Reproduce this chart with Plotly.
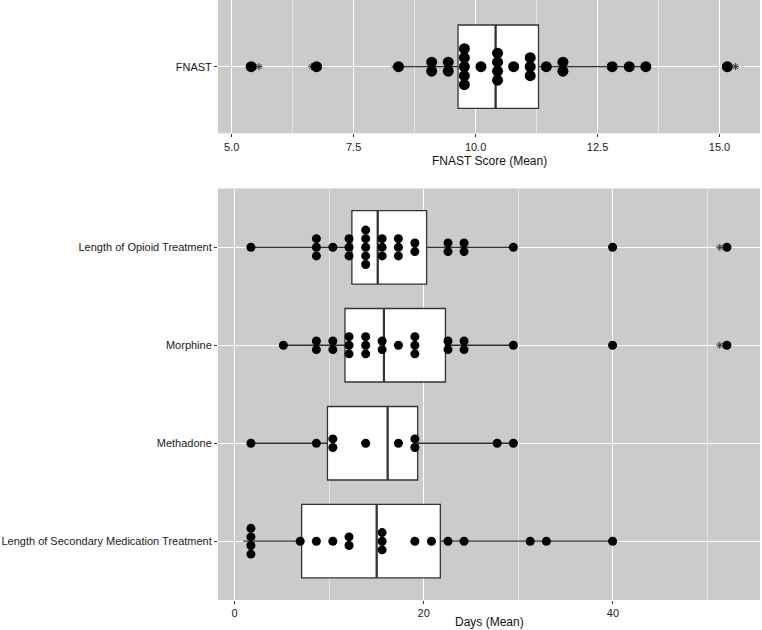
import plotly.graph_objects as go
from collections import Counter

# ---------------- data ----------------
fnast_label = "FNAST"
fnast_values = [5.40, 6.74, 8.42, 9.10, 9.10, 9.44, 9.44,
                9.77, 9.77, 9.77, 9.77, 9.77, 10.11,
                10.45, 10.45, 10.45, 10.45, 10.78,
                11.12, 11.12, 11.12, 11.45, 11.79, 11.79,
                12.80, 13.15, 13.49, 15.16]
fnast_box = dict(q1=9.64, median=10.41, q3=11.29, lo=8.28, hi=13.49)
fnast_outliers = [5.56, 6.64, 15.33]

day_categories = ["Length of Secondary Medication Treatment", "Methadone",
                  "Morphine", "Length of Opioid Treatment"]

opioid_values = [1.74, 8.66, 8.66, 8.66, 10.40, 12.11, 12.11, 12.11,
                 13.87, 13.87, 13.87, 13.87, 13.87, 15.61, 15.61, 15.61,
                 17.33, 17.33, 17.33, 19.07, 19.07, 22.57, 22.57,
                 24.27, 24.27, 29.48, 39.97, 52.05]
morphine_values = [5.17, 8.66, 8.66, 10.40, 10.40, 12.11, 12.11, 12.11,
                   13.87, 13.87, 13.87, 15.61, 15.61, 17.33,
                   19.07, 19.07, 19.07, 22.57, 22.57, 24.27, 24.27,
                   29.48, 39.97, 52.05]
methadone_values = [1.74, 8.66, 10.40, 10.40, 13.87, 17.33, 19.07, 19.07,
                    27.77, 29.48]
secondary_values = [1.74, 1.74, 1.74, 1.74, 6.95, 8.66, 10.40, 12.11, 12.11,
                    15.61, 15.61, 15.61, 19.07, 20.82, 22.57, 24.27,
                    31.26, 32.97, 39.97]

day_values = {
    "Length of Opioid Treatment": opioid_values,
    "Morphine": morphine_values,
    "Methadone": methadone_values,
    "Length of Secondary Medication Treatment": secondary_values,
}
day_boxes = {
    "Length of Opioid Treatment": dict(q1=12.41, median=15.14, q3=20.31, lo=1.74, hi=29.48),
    "Morphine": dict(q1=11.68, median=15.80, q3=22.30, lo=5.17, hi=29.48),
    "Methadone": dict(q1=9.83, median=16.19, q3=19.36, lo=1.74, hi=29.48),
    "Length of Secondary Medication Treatment": dict(q1=7.10, median=15.03, q3=21.76, lo=0.94, hi=39.97),
}
day_outliers = {
    "Length of Opioid Treatment": [40.0, 51.3],
    "Morphine": [40.0, 51.3],
    "Methadone": [],
    "Length of Secondary Medication Treatment": [],
}

top_title = "FNAST Score (Mean)"
bottom_title = "Days (Mean)"

# ---------------- layout constants ----------------
W, H = 762, 630
ML, MR, MT, MB = 218, 2, 0, 30
plot_h = H - MT - MB
top_dom = [1 - 133.3 / plot_h, 1.0]
bot_dom = [0.0, (H - MB - 188.5) / plot_h]

BG = "#CBCBCB"
DARK = "#333333"
BOXW = 0.75
FONT = "Liberation Sans, Arial, sans-serif"

fig = go.Figure()


def stack_points(values, ypos, step):
    xs, ys = [], []
    cnt = Counter(values)
    for v in sorted(cnt):
        n = cnt[v]
        for i in range(n):
            xs.append(v)
            ys.append(ypos + (i - (n - 1) / 2) * step)
    return xs, ys


def add_row(ypos, vals, box, outl, xa, ya, step, dotsize):
    fig.add_trace(go.Box(
        orientation="h", y=[ypos], q1=[box["q1"]], median=[box["median"]],
        q3=[box["q3"]], lowerfence=[box["lo"]], upperfence=[box["hi"]],
        width=BOXW, whiskerwidth=0, fillcolor="white",
        line=dict(color=DARK, width=1.3), boxpoints=False,
        xaxis=xa, yaxis=ya, showlegend=False, hoverinfo="skip"))
    # thicker median line
    fig.add_trace(go.Scatter(
        x=[box["median"], box["median"]],
        y=[ypos - BOXW / 2, ypos + BOXW / 2], mode="lines",
        line=dict(color=DARK, width=2.2), xaxis=xa, yaxis=ya,
        showlegend=False, hoverinfo="skip"))
    if outl:
        fig.add_trace(go.Scatter(
            x=outl, y=[ypos] * len(outl), mode="markers",
            marker=dict(symbol="asterisk-open", size=6, color=DARK,
                        line=dict(color=DARK, width=1)),
            xaxis=xa, yaxis=ya, showlegend=False, hoverinfo="skip"))
    xs, ys = stack_points(vals, ypos, step)
    fig.add_trace(go.Scatter(
        x=xs, y=ys, mode="markers",
        marker=dict(color="black", size=dotsize, line=dict(width=0)),
        xaxis=xa, yaxis=ya, showlegend=False))


# top panel: 1.2 units over 133 px
top_step = 9.0 / (133.3 / 1.2)
add_row(1, fnast_values, fnast_box, fnast_outliers, "x", "y", top_step, 11)

# bottom panel: 4.2 units over ~411 px
bot_step = 8.6 / (411.5 / 4.2)
for i, cat in enumerate(day_categories):
    add_row(i + 1, day_values[cat], day_boxes[cat], day_outliers[cat],
            "x2", "y2", bot_step, 9)

axis_common = dict(
    showline=False, zeroline=False, ticks="outside", ticklen=3,
    tickcolor=DARK, tickwidth=1, gridcolor="white", gridwidth=1.1,
    automargin=False,
    tickfont=dict(family=FONT, size=11, color="#1a1a1a"),
)

fig.update_layout(
    width=W, height=H,
    margin=dict(l=ML, r=MR, t=MT, b=MB),
    paper_bgcolor="white", plot_bgcolor=BG,
    font=dict(family=FONT, color="#111111"),
    xaxis=dict(
        domain=[0, 1], anchor="y", range=[4.72, 15.83],
        tickvals=[5, 7.5, 10, 12.5, 15],
        ticktext=["5.0", "7.5", "10.0", "12.5", "15.0"],
        minor=dict(tickvals=[6.25, 8.75, 11.25, 13.75], showgrid=True,
                   gridcolor="#E4E4E4", gridwidth=0.6, ticks=""),
        **axis_common),
    yaxis=dict(
        domain=top_dom, anchor="x", range=[0.4, 1.6],
        tickvals=[1], ticktext=[fnast_label], **axis_common),
    xaxis2=dict(
        domain=[0, 1], anchor="y2", range=[-1.74, 55.55],
        tickvals=[0, 20, 40], ticktext=["0", "20", "40"],
        minor=dict(tickvals=[10, 30, 50], showgrid=True,
                   gridcolor="#E4E4E4", gridwidth=0.6, ticks=""),
        **axis_common),
    yaxis2=dict(
        domain=bot_dom, anchor="x2", range=[0.4, 4.6],
        tickvals=[1, 2, 3, 4], ticktext=day_categories, **axis_common),
    annotations=[
        dict(text=top_title, xref="x domain", yref="y domain", x=0.5, y=0,
             yshift=-28, yanchor="middle", showarrow=False,
             font=dict(family=FONT, size=12, color="#111111")),
        dict(text=bottom_title, xref="x2 domain", yref="y2 domain", x=0.5, y=0,
             yshift=-22, yanchor="middle", showarrow=False,
             font=dict(family=FONT, size=12, color="#111111")),
    ],
)

fig.write_html("out.html", config={"displayModeBar": False},
               post_script="document.body.style.margin='0';document.body.style.overflow='hidden';")
